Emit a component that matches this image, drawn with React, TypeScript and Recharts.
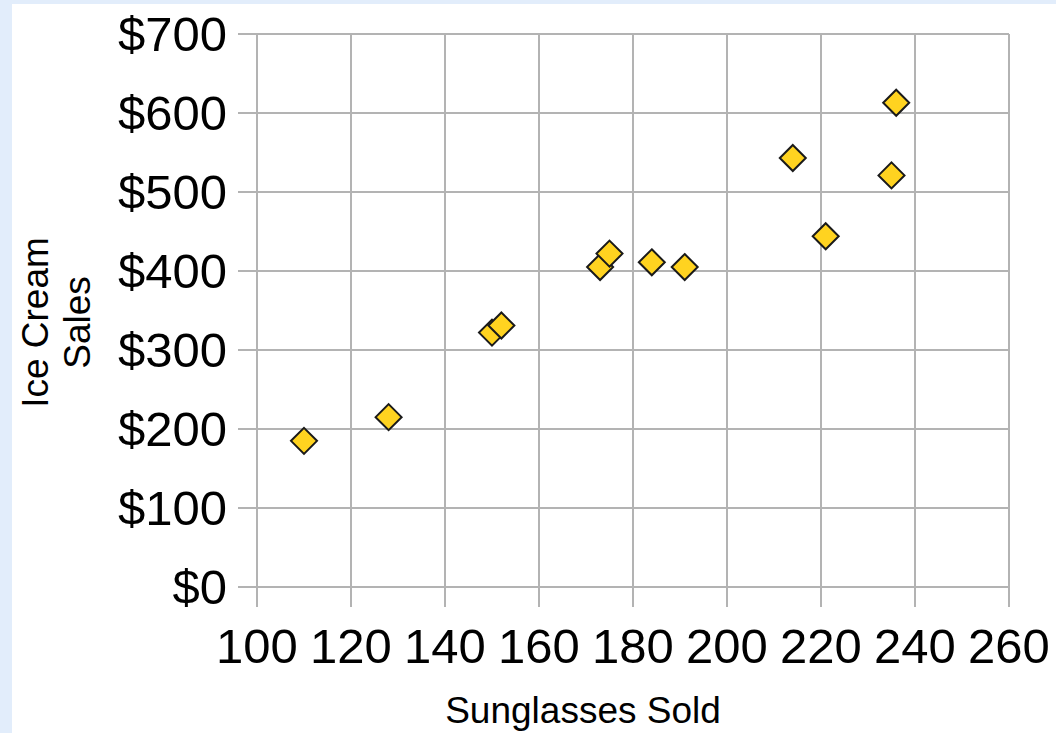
import React from 'react';
import {
  ScatterChart,
  Scatter,
  XAxis,
  YAxis,
  CartesianGrid,
  Label,
} from 'recharts';

const sunglassesSold = [110, 128, 150, 152, 173, 175, 184, 191, 214, 221, 235, 236];
const iceCreamSales = [185, 215, 322, 331, 405, 422, 411, 405, 543, 444, 521, 613];
const xTicks = [100, 120, 140, 160, 180, 200, 220, 240, 260];
const yTicks = [0, 100, 200, 300, 400, 500, 600, 700];

const FONT = '"Liberation Sans", Arial, sans-serif';
const GRID = '#b3b3b3';

const data = sunglassesSold.map((s, i) => ({ sold: s, sales: iceCreamSales[i] }));

function Diamond(props: any) {
  const { cx, cy } = props;
  const r = 13;
  return (
    <polygon
      points={`${cx},${cy - r} ${cx + r},${cy} ${cx},${cy + r} ${cx - r},${cy}`}
      fill="#ffd320"
      stroke="#1a1a1a"
      strokeWidth={2}
      strokeLinejoin="miter"
    />
  );
}

function YTitle(props: any) {
  const { viewBox } = props;
  const cy = viewBox.y + viewBox.height / 2 + 12;
  return (
    <g fontFamily={FONT} fontSize={37} fill="#000">
      <text x={36} y={cy} textAnchor="middle" transform={`rotate(-90 36 ${cy})`}>
        Ice Cream
      </text>
      <text x={78} y={cy} textAnchor="middle" transform={`rotate(-90 78 ${cy})`}>
        Sales
      </text>
    </g>
  );
}

function XTitle(props: any) {
  const { viewBox } = props;
  const x = viewBox.x + viewBox.width / 2 - 50;
  return (
    <text x={x} y={719} textAnchor="middle" fontFamily={FONT} fontSize={37} fill="#000">
      Sunglasses Sold
    </text>
  );
}

export default function App() {
  return (
    <div
      style={{
        position: 'absolute',
        left: 0,
        top: 0,
        width: 1056,
        height: 733,
        background: '#e2edfb',
      }}
    >
      <div style={{ position: 'absolute', left: 12, top: 4, width: 1044, height: 729, background: '#fff' }}>
        <ScatterChart
          width={1044}
          height={729}
          margin={{ top: 30, right: 47, left: 0, bottom: 0 }}
        >
          <CartesianGrid stroke={GRID} strokeWidth={2} />
          <XAxis
            type="number"
            dataKey="sold"
            domain={[100, 260]}
            ticks={xTicks}
            interval={0}
            height={146}
            tickSize={20}
            tickMargin={21}
            axisLine={{ stroke: GRID, strokeWidth: 2 }}
            tickLine={{ stroke: GRID, strokeWidth: 2 }}
            tick={{ fill: '#000', fontSize: 49, fontFamily: FONT }}
          >
            <Label content={XTitle} />
          </XAxis>
          <YAxis
            type="number"
            dataKey="sales"
            domain={[0, 700]}
            ticks={yTicks}
            interval={0}
            width={245}
            tickSize={19}
            tickMargin={11}
            tickFormatter={(v: number) => `$${v}`}
            axisLine={{ stroke: GRID, strokeWidth: 2 }}
            tickLine={{ stroke: GRID, strokeWidth: 2 }}
            tick={{ fill: '#000', fontSize: 49, fontFamily: FONT }}
          >
            <Label content={YTitle} />
          </YAxis>
          <Scatter data={data} shape={Diamond} isAnimationActive={false} />
        </ScatterChart>
      </div>
    </div>
  );
}
